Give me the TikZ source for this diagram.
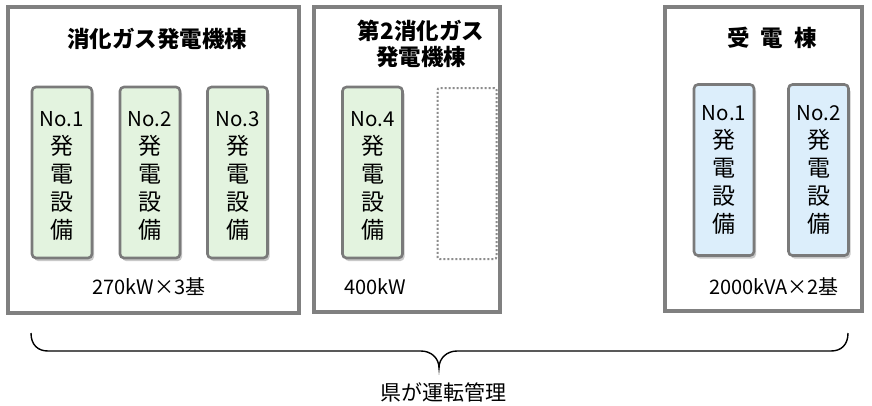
\documentclass[tikz,border=0pt]{standalone}
\usepackage{fontspec}
\setmainfont{Noto Sans CJK JP}
\usetikzlibrary{shadows}
\definecolor{framegray}{HTML}{808080}
\definecolor{boxgray}{HTML}{7A7A7A}
\definecolor{gfill}{HTML}{E3F3DF}
\definecolor{bfill}{HTML}{DCEEFB}
\newcommand\unitlabel[1]{{\fontsize{20.5pt}{28pt}\selectfont No.#1}\\発\\電\\設\\備}
\tikzset{
  building/.style={draw=framegray, line width=3.5pt, fill=white},
  unitbox/.style={draw=boxgray, line width=2.6pt, rounded corners=4pt,
    minimum width=60pt, minimum height=171pt, inner sep=0pt,
    drop shadow={shadow xshift=2pt, shadow yshift=-3pt, opacity=0.35, fill=black!60}},
  unittext/.style={align=center, inner sep=0pt, yshift=-3pt,
    font=\fontsize{23pt}{28pt}\selectfont},
  gunit/.style={unitbox, fill=gfill},
  bunit/.style={unitbox, fill=bfill},
  spare/.style={draw=black!45, line width=2pt, dash pattern=on 2pt off 2pt, rounded corners=2pt,
    minimum width=59pt, minimum height=171pt},
  title/.style={font=\fontsize{22.5pt}{26pt}\selectfont\bfseries, align=center},
  captext/.style={font=\fontsize{20pt}{22pt}\selectfont},
  brace/.style={draw=black, line width=1.4pt},
}
\begin{document}
\begin{tikzpicture}[x=1pt,y=-1pt]
\useasboundingbox (0,0) rectangle (872,405);
% buildings
\draw[building] (8,7) rectangle (299,313);
\draw[building] (314,7) rectangle (500,312);
\draw[building] (665,7) rectangle (862,311);
% titles
\node[title] (t1) at (157,39) {消化ガス発電機棟};
\node[title] (t2) at (421,44) {第2消化ガス\\発電機棟};
\node[title] (t3) at (772,38) {受\hspace{0.5em}電\hspace{0.5em}棟};
% units
\node[gunit, label={[unittext]center:\unitlabel{1}}] (g1) at (62,172.5) {};
\node[gunit, label={[unittext]center:\unitlabel{2}}] (g2) at (150,172.5) {};
\node[gunit, label={[unittext]center:\unitlabel{3}}] (g3) at (237.5,172.5) {};
\node[gunit, label={[unittext]center:\unitlabel{4}}] (g4) at (372.5,172.5) {};
\node[spare] (sp) at (467,173.5) {};
\node[bunit, label={[unittext,yshift=3pt]center:\unitlabel{1}}] (b1) at (724,170) {};
\node[bunit, label={[unittext,yshift=3pt]center:\unitlabel{2}}] (b2) at (818.5,170) {};
% capacities
\node[captext] (c1) at (149,287) {270kW×3基};
\node[captext] (c2) at (375,287) {400kW};
\node[captext] (c3) at (774,287) {2000kVA×2基};
% brace
\coordinate (bl) at (31,333);
\coordinate (br) at (848,333);
\coordinate (tip) at (439,368);
\draw[brace] (bl) .. controls (31,345) and (38,351) .. (48,351)
  -- (421,351) .. controls (431,351) and (439,358) .. (tip)
  .. controls (439,358) and (447,351) .. (457,351)
  -- (831,351) .. controls (841,351) and (848,345) .. (br);
\node[font=\fontsize{21pt}{24pt}\selectfont] (lbl) at (443,392) {県が運転管理};
\end{tikzpicture}
\end{document}
